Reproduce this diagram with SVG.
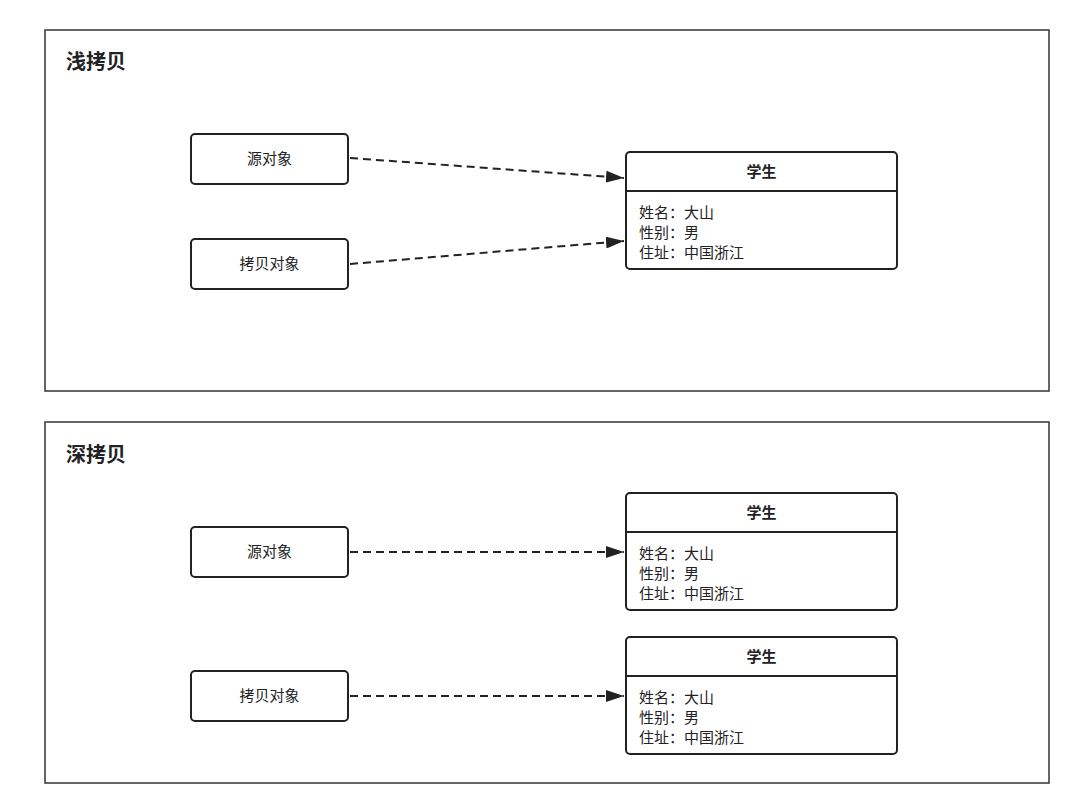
<svg xmlns="http://www.w3.org/2000/svg" width="1080" height="795" viewBox="0 0 1080 795">
<style>
text{font-family:"Liberation Sans","Noto Sans CJK SC",sans-serif;fill:#222}
.frame{fill:#fff;stroke:#333;stroke-width:1.5}
.box{fill:#fff;stroke:#222;stroke-width:2}
.t{font-size:15px;text-anchor:middle}
.h{font-size:20px;font-weight:bold}
.b{font-size:15px;font-weight:bold;text-anchor:middle}
.a{font-size:15px}
.c{stroke:#222;stroke-width:2;stroke-dasharray:8,5;fill:none;marker-end:url(#ar)}
</style>
<defs><marker id="ar" viewBox="0 0 18 12" refX="18" refY="6" markerWidth="18" markerHeight="12" markerUnits="userSpaceOnUse" orient="auto"><path d="M0,0 L18,6 L0,12 z" fill="#222"/></marker></defs>
<rect width="1080" height="795" fill="#fff"/>
<g id="frame1"><rect class="frame" x="45" y="30" width="1004" height="361"/><text class="h" x="66" y="69">浅拷贝</text></g>
<g id="frame2"><rect class="frame" x="45" y="422" width="1004" height="361"/><text class="h" x="66" y="462">深拷贝</text></g>
<g id="src1"><rect class="box" x="191" y="134" width="157" height="50" rx="4"/><text class="t" x="269.5" y="164">源对象</text></g>
<g id="copy1"><rect class="box" x="191" y="239" width="157" height="50" rx="4"/><text class="t" x="269.5" y="269">拷贝对象</text></g>
<g id="src2"><rect class="box" x="191" y="527" width="157" height="50" rx="4"/><text class="t" x="269.5" y="557">源对象</text></g>
<g id="copy2"><rect class="box" x="191" y="671" width="157" height="50" rx="4"/><text class="t" x="269.5" y="701">拷贝对象</text></g>
<g id="stu1"><rect class="box" x="626" y="152" width="271" height="117" rx="4"/><line x1="626" y1="191" x2="897" y2="191" stroke="#222" stroke-width="2"/><text class="b" x="761.5" y="177">学生</text><text class="a" x="639" y="218">姓名：大山</text><text class="a" x="639" y="238">性别：男</text><text class="a" x="639" y="258">住址：中国浙江</text></g>
<g id="stu2"><rect class="box" x="626" y="493" width="271" height="117" rx="4"/><line x1="626" y1="532" x2="897" y2="532" stroke="#222" stroke-width="2"/><text class="b" x="761.5" y="518">学生</text><text class="a" x="639" y="559">姓名：大山</text><text class="a" x="639" y="579">性别：男</text><text class="a" x="639" y="599">住址：中国浙江</text></g>
<g id="stu3"><rect class="box" x="626" y="637" width="271" height="117" rx="4"/><line x1="626" y1="676" x2="897" y2="676" stroke="#222" stroke-width="2"/><text class="b" x="761.5" y="662">学生</text><text class="a" x="639" y="703">姓名：大山</text><text class="a" x="639" y="723">性别：男</text><text class="a" x="639" y="743">住址：中国浙江</text></g>
<g id="connectors">
<path class="c" d="M350,158 L624,178"/>
<path class="c" d="M350,264 L624,241"/>
<path class="c" d="M350,552 L624,552"/>
<path class="c" d="M350,696 L624,696"/>
</g>
</svg>
